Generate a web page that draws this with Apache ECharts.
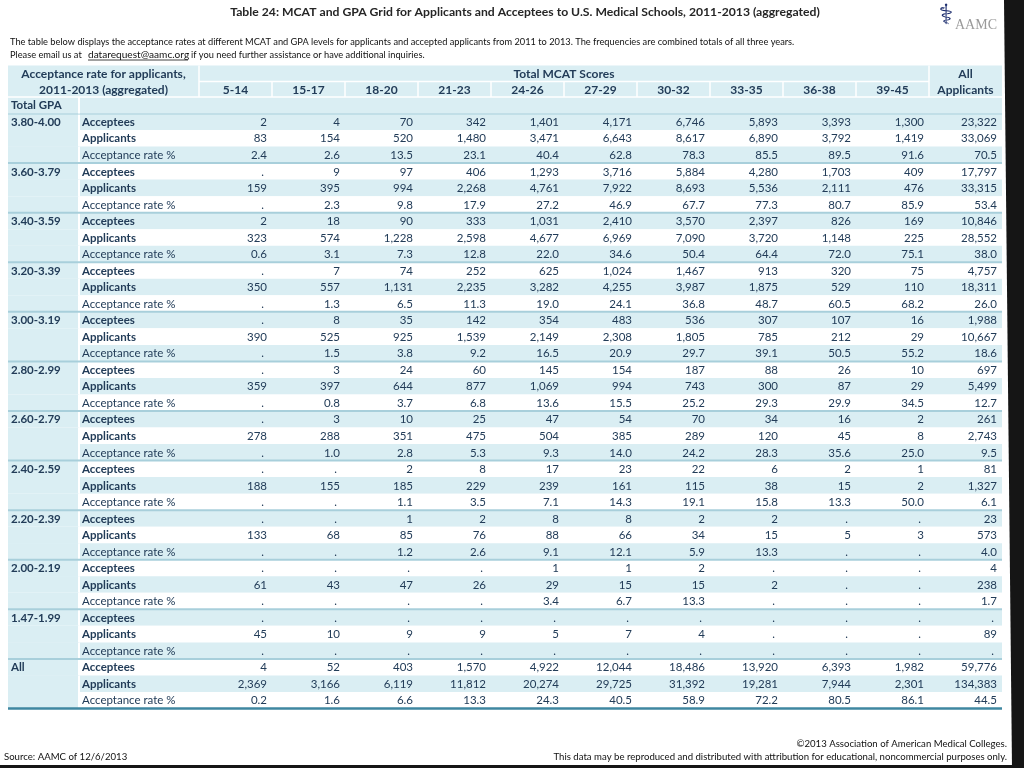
<!DOCTYPE html>
<html>
<head>
<meta charset="utf-8">
<style>html,body{margin:0;padding:0;background:#fff}#main{width:1024px;height:768px}</style>
<script src="https://cdn.jsdelivr.net/npm/echarts/dist/echarts.min.js"></script>
</head>
<body>
<div id="main"></div>
<script>
// ---------- DATA ----------
const mcatBins = ['5-14','15-17','18-20','21-23','24-26','27-29','30-32','33-35','36-38','39-45'];
const allColumnLabel = ['All', 'Applicants'];
const gpaBins = ['3.80-4.00','3.60-3.79','3.40-3.59','3.20-3.39','3.00-3.19','2.80-2.99','2.60-2.79','2.40-2.59','2.20-2.39','2.00-2.19','1.47-1.99','All'];
const rowTypes = ['Acceptees','Applicants','Acceptance rate %'];
// each row: 10 MCAT bins + All Applicants ; null = "."
const acceptees = [
  [2, 4, 70, 342, 1401, 4171, 6746, 5893, 3393, 1300, 23322],
  [null, 9, 97, 406, 1293, 3716, 5884, 4280, 1703, 409, 17797],
  [2, 18, 90, 333, 1031, 2410, 3570, 2397, 826, 169, 10846],
  [null, 7, 74, 252, 625, 1024, 1467, 913, 320, 75, 4757],
  [null, 8, 35, 142, 354, 483, 536, 307, 107, 16, 1988],
  [null, 3, 24, 60, 145, 154, 187, 88, 26, 10, 697],
  [null, 3, 10, 25, 47, 54, 70, 34, 16, 2, 261],
  [null, null, 2, 8, 17, 23, 22, 6, 2, 1, 81],
  [null, null, 1, 2, 8, 8, 2, 2, null, null, 23],
  [null, null, null, null, 1, 1, 2, null, null, null, 4],
  [null, null, null, null, null, null, null, null, null, null, null],
  [4, 52, 403, 1570, 4922, 12044, 18486, 13920, 6393, 1982, 59776]
];
const applicants = [
  [83, 154, 520, 1480, 3471, 6643, 8617, 6890, 3792, 1419, 33069],
  [159, 395, 994, 2268, 4761, 7922, 8693, 5536, 2111, 476, 33315],
  [323, 574, 1228, 2598, 4677, 6969, 7090, 3720, 1148, 225, 28552],
  [350, 557, 1131, 2235, 3282, 4255, 3987, 1875, 529, 110, 18311],
  [390, 525, 925, 1539, 2149, 2308, 1805, 785, 212, 29, 10667],
  [359, 397, 644, 877, 1069, 994, 743, 300, 87, 29, 5499],
  [278, 288, 351, 475, 504, 385, 289, 120, 45, 8, 2743],
  [188, 155, 185, 229, 239, 161, 115, 38, 15, 2, 1327],
  [133, 68, 85, 76, 88, 66, 34, 15, 5, 3, 573],
  [61, 43, 47, 26, 29, 15, 15, 2, null, null, 238],
  [45, 10, 9, 9, 5, 7, 4, null, null, null, 89],
  [2369, 3166, 6119, 11812, 20274, 29725, 31392, 19281, 7944, 2301, 134383]
];
const acceptanceRate = [
  [2.4, 2.6, 13.5, 23.1, 40.4, 62.8, 78.3, 85.5, 89.5, 91.6, 70.5],
  [null, 2.3, 9.8, 17.9, 27.2, 46.9, 67.7, 77.3, 80.7, 85.9, 53.4],
  [0.6, 3.1, 7.3, 12.8, 22.0, 34.6, 50.4, 64.4, 72.0, 75.1, 38.0],
  [null, 1.3, 6.5, 11.3, 19.0, 24.1, 36.8, 48.7, 60.5, 68.2, 26.0],
  [null, 1.5, 3.8, 9.2, 16.5, 20.9, 29.7, 39.1, 50.5, 55.2, 18.6],
  [null, 0.8, 3.7, 6.8, 13.6, 15.5, 25.2, 29.3, 29.9, 34.5, 12.7],
  [null, 1.0, 2.8, 5.3, 9.3, 14.0, 24.2, 28.3, 35.6, 25.0, 9.5],
  [null, null, 1.1, 3.5, 7.1, 14.3, 19.1, 15.8, 13.3, 50.0, 6.1],
  [null, null, 1.2, 2.6, 9.1, 12.1, 5.9, 13.3, null, null, 4.0],
  [null, null, null, null, 3.4, 6.7, 13.3, null, null, null, 1.7],
  [null, null, null, null, null, null, null, null, null, null, null],
  [0.2, 1.6, 6.6, 13.3, 24.3, 40.5, 58.9, 72.2, 80.5, 86.1, 44.5]
];

// ---------- STYLE ----------
const BLUE = '#daeef3';
const SEP = '#a8cfdb';
const TEXT = '#223c58';
const BOTTOM = '#3f87a1';
const FONT = 'Lato';
const TABLE_LEFT = 8;
const GPA_RIGHT = 79;
const GPA_X = 11;
const LABEL_X = 82;
const NCOL = mcatBins.length + 1;

// ---------- BUILD ----------
const rowsData = [], cellData = [], cellText = [], cellIsDot = [];
gpaBins.forEach((g, gi) => {
  rowTypes.forEach((t, ti) => {
    const r = gi * 3 + ti;
    rowsData.push([0, r]);
    const vals = [acceptees, applicants, acceptanceRate][ti][gi];
    vals.forEach((v, ci) => {
      cellData.push([ci, r]);
      cellIsDot.push(v == null);
      cellText.push(v == null ? '.' : (ti === 2 ? v.toFixed(1) : v.toLocaleString('en-US')));
    });
  });
});
const rowIds = rowsData.map((d, i) => String(i));

const chart = echarts.init(document.getElementById('main'));

const option = {
  animation: false,
  grid: { left: 199, right: 22, top: 113.5, bottom: 59.5 },
  xAxis: { type: 'value', min: 0, max: NCOL, show: false },
  yAxis: { type: 'category', data: rowIds, inverse: true, show: false },
  series: [
    {
      type: 'custom', name: 'rows', z: 1, clip: false,
      data: rowsData, encode: { x: 0, y: 1 },
      renderItem(params, api) {
        const r = api.value(1);
        const c = api.coord([0, r]);
        const h = api.size([0, 1])[1];
        const top = c[1] - h / 2;
        const right = api.coord([NCOL, r])[0];
        const ti = r % 3, gi = (r - ti) / 3;
        const ch = [
          { type: 'rect', shape: { x: TABLE_LEFT, y: top, width: right - TABLE_LEFT, height: h }, style: { fill: r % 2 === 0 ? BLUE : '#ffffff' } },
          { type: 'rect', shape: { x: TABLE_LEFT, y: top, width: GPA_RIGHT - TABLE_LEFT, height: h }, style: { fill: BLUE } },
          { type: 'line', shape: { x1: GPA_RIGHT, y1: top, x2: GPA_RIGHT, y2: top + h }, style: { stroke: '#ffffff', lineWidth: 2 } },
          { type: 'text', x: LABEL_X, y: c[1] + 0.5, style: { text: rowTypes[ti], font: (ti < 2 ? 'bold ' : '') + '11.5px ' + FONT, fill: TEXT, verticalAlign: 'middle', align: 'left' } }
        ];
        if (ti === 0) ch.push({ type: 'text', x: GPA_X, y: c[1] + 0.5, style: { text: gpaBins[gi], font: 'bold 11.5px ' + FONT, fill: TEXT, verticalAlign: 'middle', align: 'left' } });
        return { type: 'group', children: ch };
      }
    },
    {
      type: 'custom', name: 'separators', z: 2, clip: false,
      data: gpaBins.map((g, gi) => [0, gi * 3]), encode: { x: 0, y: 1 },
      renderItem(params, api) {
        const r = api.value(1);
        const c = api.coord([0, r]);
        const h = api.size([0, 1])[1];
        const top = c[1] - h / 2;
        const right = api.coord([NCOL, r])[0];
        const ch = [{ type: 'line', shape: { x1: TABLE_LEFT, y1: top, x2: right, y2: top }, style: { stroke: SEP, lineWidth: 2 } }];
        if (params.dataIndex === gpaBins.length - 1) {
          const bottom = top + 3 * h;
          ch.push({ type: 'line', shape: { x1: TABLE_LEFT, y1: bottom, x2: right, y2: bottom }, style: { stroke: BOTTOM, lineWidth: 2.5 } });
        }
        return { type: 'group', children: ch };
      }
    },
    {
      type: 'custom', name: 'cells', z: 3, clip: false,
      data: cellData, encode: { x: 0, y: 1 },
      renderItem(params, api) {
        const p = api.coord([api.value(0) + 1, api.value(1)]);
        const dot = cellIsDot[params.dataIndex];
        return { type: 'text', x: p[0] - (dot ? 8 : 5), y: p[1] + 0.5,
          style: { text: cellText[params.dataIndex], font: '11.5px ' + FONT, fill: TEXT, align: 'right', verticalAlign: 'middle' } };
      }
    }
  ]
};
chart.setOption(option);

// ---------- HEADER & ANNOTATIONS (positions derived from the axes) ----------
const colX = i => chart.convertToPixel({ xAxisIndex: 0 }, i);
const rowCY = r => chart.convertToPixel({ yAxisIndex: 0 }, rowIds[r]);
const rowH = rowCY(1) - rowCY(0);
const gTop = rowCY(0) - rowH / 2;
const y1 = gTop - 3 * rowH + 1.5, y2 = gTop - 2 * rowH + 1, y3 = gTop - rowH;
const xL = colX(0), xAll = colX(NCOL - 1), xR = colX(NCOL);
const hdrFont = 'bold 12px ' + FONT;
const g = [];
function txt(x, y, text, font, fill, align) {
  g.push({ type: 'text', x, y, style: { text, font, fill, align: align || 'center', verticalAlign: 'middle' }, z: 20 });
}
function ln(x1, yA, x2, yB, stroke, w) {
  g.push({ type: 'line', shape: { x1, y1: yA, x2, y2: yB }, style: { stroke, lineWidth: w }, z: 15 });
}
// header backgrounds
g.push({ type: 'rect', shape: { x: TABLE_LEFT, y: y1, width: xR - TABLE_LEFT, height: gTop - y1 }, style: { fill: BLUE }, z: 10 });
// header grid lines (white)
ln(xL, y2, xAll, y2, '#ffffff', 1.5);
ln(TABLE_LEFT, y3, xR, y3, '#ffffff', 1.5);
ln(xL, y1, xL, y3, '#ffffff', 1.5);
ln(xAll, y1, xAll, y3, '#ffffff', 1.5);
for (let i = 1; i < NCOL - 1; i++) ln(colX(i), y2, colX(i), y3, '#ffffff', 1.5);
ln(GPA_RIGHT, y3, GPA_RIGHT, gTop, '#ffffff', 2);
// header texts
const cx = (TABLE_LEFT + xL) / 2;
txt(cx, (y1 + y2) / 2 + 0.5, 'Acceptance rate for applicants,', hdrFont, TEXT);
txt(cx, (y2 + y3) / 2 + 0.5, '2011-2013 (aggregated)', hdrFont, TEXT);
txt((xL + xAll) / 2, (y1 + y2) / 2 + 0.5, 'Total MCAT Scores', hdrFont, TEXT);
mcatBins.forEach((b, i) => txt((colX(i) + colX(i + 1)) / 2, (y2 + y3) / 2 + 0.5, b, hdrFont, TEXT));
txt((xAll + xR) / 2, (y1 + y2) / 2 + 0.5, allColumnLabel[0], hdrFont, TEXT);
txt((xAll + xR) / 2, (y2 + y3) / 2 + 0.5, allColumnLabel[1], hdrFont, TEXT);
txt(GPA_X, (y3 + gTop) / 2 + 0.5, 'Total GPA', 'bold 11.5px ' + FONT, TEXT, 'left');

// title, notes, logo, footer
const noteFont = '9.25px ' + FONT;
txt(525, 12, 'Table 24: MCAT and GPA Grid for Applicants and Acceptees to U.S. Medical Schools, 2011-2013 (aggregated)', 'bold 12.2px ' + FONT, '#262626');
txt(10, 42, 'The table below displays the acceptance rates at different MCAT and GPA levels for applicants and accepted applicants from 2011 to 2013. The frequencies are combined totals of all three years.', noteFont, '#111111', 'left');
txt(10, 55, 'Please email us at', noteFont, '#111111', 'left');
txt(88, 55, 'datarequest@aamc.org', '10.1px ' + FONT, '#111111', 'left');
txt(191, 55, 'if you need further assistance or have additional inquiries.', noteFont, '#111111', 'left');
ln(88, 60, 188, 60, '#111111', 0.8);
txt(946, 17, '\u2695', 'bold 28px "DejaVu Sans"', '#1c2d6e');
txt(955, 25, 'AAMC', '14px "Liberation Serif"', '#9a9a9a', 'left');
txt(1007, 744, '\u00a92013 Association of American Medical Colleges.', '9.6px ' + FONT, '#111111', 'right');
txt(1007, 757, 'This data may be reproduced and distributed with attribution for educational, noncommercial purposes only.', '9.6px ' + FONT, '#111111', 'right');
txt(4, 757, 'Source: AAMC of 12/6/2013', '9.6px ' + FONT, '#111111', 'left');
// dark screen edges of the photographed page
g.push({ type: 'polygon', shape: { points: [[1004, 0], [1024, 0], [1024, 768], [1012, 768]] }, style: { fill: '#151515' }, z: 30 });
g.push({ type: 'rect', shape: { x: 0, y: 765, width: 1024, height: 3 }, style: { fill: '#151515' }, z: 30 });

chart.setOption({ graphic: g });
</script>
</body>
</html>
